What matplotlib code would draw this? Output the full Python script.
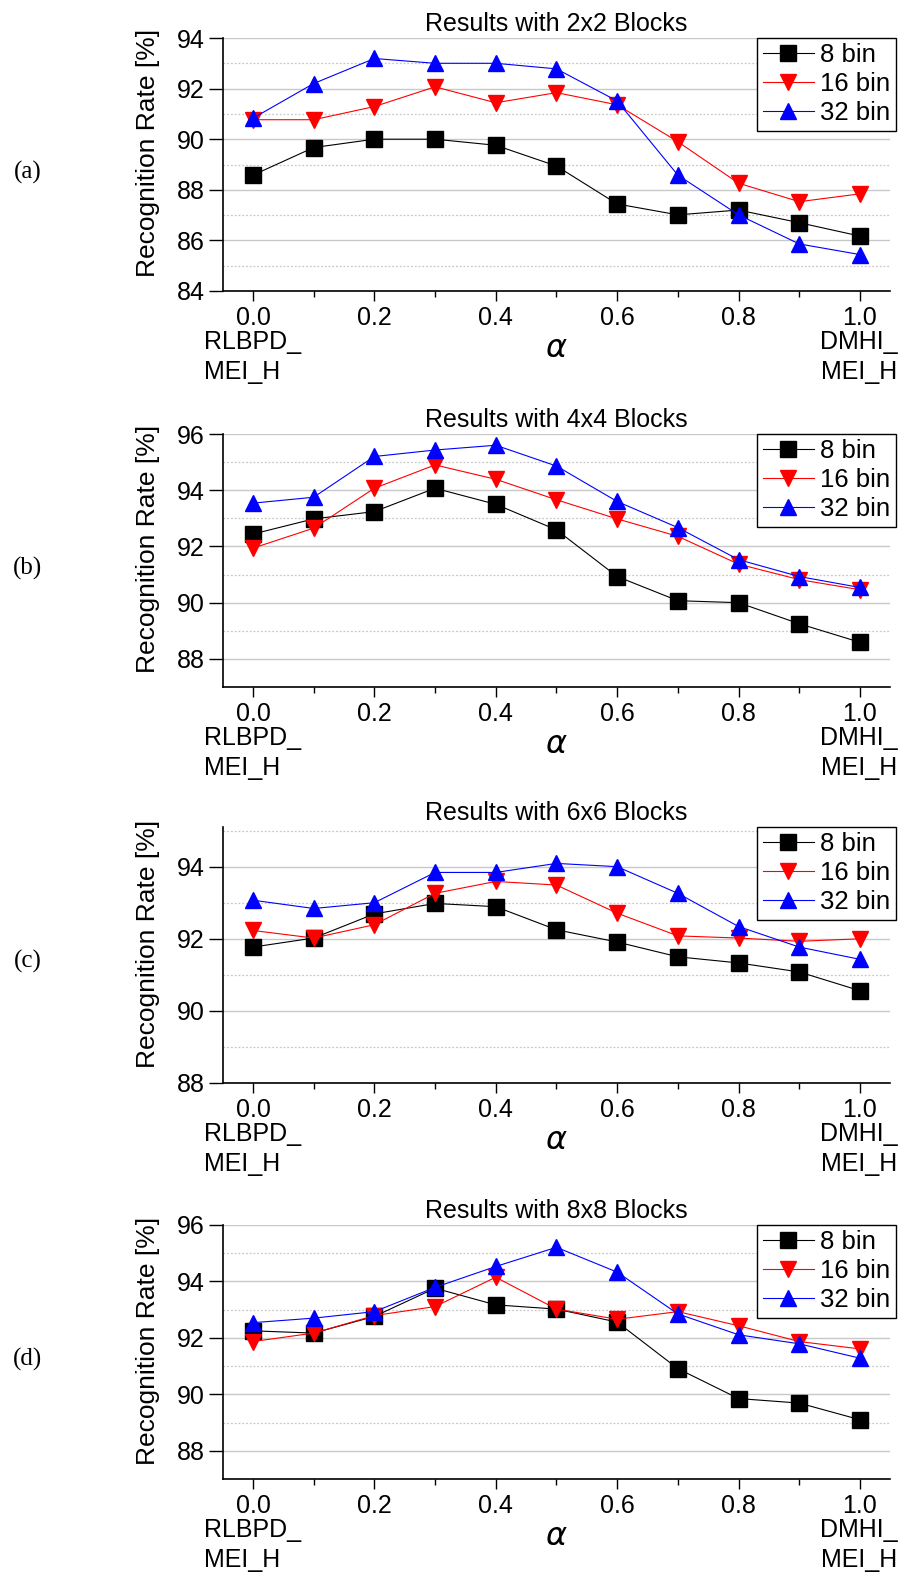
import numpy as np
import matplotlib
matplotlib.use("Agg")
import matplotlib.pyplot as plt
from matplotlib.ticker import MultipleLocator

plt.rcParams['font.family'] = ['Liberation Sans', 'DejaVu Sans']
plt.rcParams['mathtext.fontset'] = 'dejavusans'

alpha = [0.0, 0.1, 0.2, 0.3, 0.4, 0.5, 0.6, 0.7, 0.8, 0.9, 1.0]
bins = ['8 bin', '16 bin', '32 bin']
block_titles = ['Results with 2x2 Blocks', 'Results with 4x4 Blocks',
                'Results with 6x6 Blocks', 'Results with 8x8 Blocks']
panel_tags = ['(a)', '(b)', '(c)', '(d)']

# recognition rates [%] per panel, per bin count
rate_2x2_8 = [88.58, 89.67, 90.0, 90.0, 89.76, 88.94, 87.44, 87.01, 87.2, 86.7, 86.17]
rate_2x2_16 = [90.77, 90.77, 91.29, 92.07, 91.44, 91.84, 91.36, 89.9, 88.26, 87.53, 87.84]
rate_2x2_32 = [90.83, 92.2, 93.19, 93.0, 93.0, 92.78, 91.51, 88.58, 87.01, 85.86, 85.44]

rate_4x4_8 = [92.44, 92.98, 93.24, 94.07, 93.5, 92.59, 90.93, 90.07, 90.0, 89.25, 88.59]
rate_4x4_16 = [91.94, 92.65, 94.07, 94.9, 94.39, 93.66, 92.98, 92.36, 91.37, 90.82, 90.46]
rate_4x4_32 = [93.54, 93.75, 95.2, 95.43, 95.6, 94.86, 93.6, 92.67, 91.53, 90.93, 90.54]

rate_6x6_8 = [91.77, 92.02, 92.69, 92.98, 92.89, 92.25, 91.91, 91.5, 91.33, 91.08, 90.56]
rate_6x6_16 = [92.23, 92.02, 92.39, 93.26, 93.59, 93.49, 92.71, 92.08, 92.02, 91.93, 92.0]
rate_6x6_32 = [93.07, 92.84, 93.0, 93.84, 93.84, 94.09, 94.0, 93.26, 92.34, 91.77, 91.43]

rate_8x8_8 = [92.25, 92.17, 92.76, 93.76, 93.17, 93.02, 92.56, 90.91, 89.85, 89.69, 89.1]
rate_8x8_16 = [91.87, 92.17, 92.79, 93.11, 94.15, 93.02, 92.66, 92.93, 92.43, 91.87, 91.61]
rate_8x8_32 = [92.54, 92.7, 92.93, 93.79, 94.53, 95.21, 94.33, 92.85, 92.11, 91.79, 91.28]

panels = [
    [rate_2x2_8, rate_2x2_16, rate_2x2_32],
    [rate_4x4_8, rate_4x4_16, rate_4x4_32],
    [rate_6x6_8, rate_6x6_16, rate_6x6_32],
    [rate_8x8_8, rate_8x8_16, rate_8x8_32],
]
ylims = [(84, 94), (87, 96), (88, 95.1), (87, 96)]
# axes top / bottom in pixels
ax_pix = [(38, 291), (434, 687), (827, 1083), (1225, 1479)]

colors = ['black', 'red', 'blue']
markers = ['s', 'v', '^']

W, H = 902, 1576
fig = plt.figure(figsize=(W / 100, H / 100), dpi=100)

left_px, right_px = 222.6, 890.3
fs = 18

for i in range(4):
    top, bot = ax_pix[i]
    ax = fig.add_axes([left_px / W, 1 - bot / H, (right_px - left_px) / W, (bot - top) / H])
    for k in range(3):
        ax.plot(alpha, panels[i][k], color=colors[k], marker=markers[k],
                markersize=11, linewidth=0.8, label=bins[k], zorder=3 + k)
    ax.set_xlim(-0.05, 1.05)
    ax.set_ylim(*ylims[i])
    ax.xaxis.set_minor_locator(MultipleLocator(0.1))
    ax.yaxis.set_major_locator(MultipleLocator(2))
    ax.yaxis.set_minor_locator(MultipleLocator(1))
    ax.set_xticks(np.arange(0, 1.01, 0.2))
    ax.set_xticklabels(['0.0', '0.2', '0.4', '0.6', '0.8', '1.0'])
    ax.tick_params(axis='x', which='major', length=7, width=1, labelsize=fs, pad=4)
    ax.tick_params(axis='x', which='minor', length=4, width=1)
    ax.tick_params(axis='y', which='major', length=10, width=1, labelsize=fs, pad=3)
    ax.tick_params(axis='y', which='minor', length=0)
    ax.grid(True, axis='y', which='major', color='#c8c8c8', linewidth=1, linestyle='-', zorder=0)
    ax.grid(True, axis='y', which='minor', color='#c8c8c8', linewidth=0.9, linestyle=(0, (1.5, 1.5)), zorder=0)
    ax.set_axisbelow(True)
    for s in ['top', 'right']:
        ax.spines[s].set_visible(False)
    for s in ['left', 'bottom']:
        ax.spines[s].set_linewidth(1.2)

    ax.set_title(block_titles[i], fontsize=fs, pad=5)
    ax.set_ylabel('Recognition Rate [%]', fontsize=19)
    ax.yaxis.set_label_coords(-0.094, 0.545)
    ax.set_xlabel(r'$\alpha$', fontsize=23, labelpad=3)

    ax.annotate('RLBPD_\nMEI_H', xy=(0, 0), xycoords='axes fraction',
                xytext=(-19, -39), textcoords='offset pixels',
                ha='left', va='top', fontsize=fs, linespacing=1.3)
    ax.annotate('DMHI_\nMEI_H', xy=(1, 0), xycoords='axes fraction',
                xytext=(7, -39), textcoords='offset pixels',
                ha='right', va='top', fontsize=fs, linespacing=1.3)

    leg = ax.legend(loc='upper right', bbox_to_anchor=(1.008, 1.0), borderaxespad=0,
                    fontsize=18.5, frameon=True, fancybox=False, framealpha=1,
                    handlelength=2.0, handletextpad=0.25, labelspacing=0.2,
                    borderpad=0.2)
    leg.get_frame().set_edgecolor('black')
    leg.get_frame().set_linewidth(1)

    fig.text(28 / W, 1 - (ax_pix[i][0] + 134) / H, panel_tags[i], fontsize=fs,
             family='Liberation Serif', ha='center', va='center')

fig.savefig('out.png', dpi=100)
